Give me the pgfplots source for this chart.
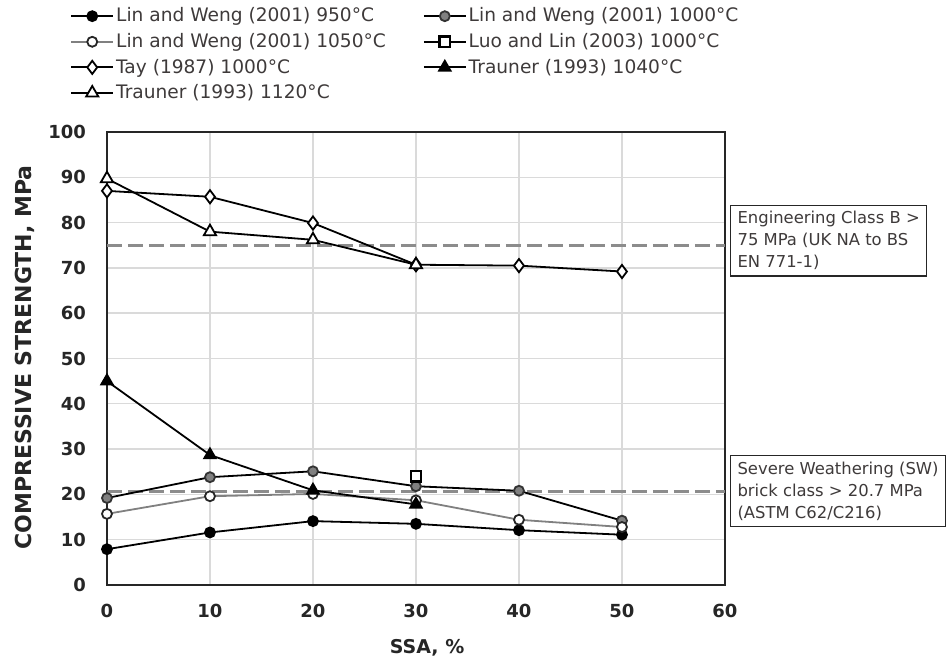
\documentclass[border=0pt]{standalone}
\usepackage{fontspec}
\setmainfont{DejaVu Sans}
\usepackage{pgfplots}
\pgfplotsset{compat=1.18}
\definecolor{txt}{RGB}{62,58,58}
\definecolor{midgray}{RGB}{128,128,128}
\definecolor{gridgray}{RGB}{218,218,218}
\definecolor{dashgray}{RGB}{140,140,140}

\begin{document}
\begin{tikzpicture}
\begin{axis}[
  scale only axis,
  width=309pt, height=226.5pt,
  xmin=0, xmax=60, ymin=0, ymax=100,
  xtick={0,10,...,60}, ytick={0,10,...,100},
  major tick length=0pt,
  /pgf/number format/assume math mode=true,
  grid=major,
  grid style={gridgray, line width=0.7pt},
  axis line style={black!85, line width=1.2pt},
  tick label style={font=\bfseries\fontsize{9}{11}\selectfont, text=black!85},
  yticklabel style={xshift=-7pt},
  xticklabel style={yshift=-6pt},
  xlabel={SSA, \%},
  ylabel={COMPRESSIVE STRENGTH, MPa},
  every axis x label/.style={at={(axis description cs:0.518,-0.139)}, anchor=center,
    font=\bfseries\fontsize{9.5}{11}\selectfont, text=black!85},
  every axis y label/.style={at={(axis description cs:-0.1327,0.502)}, rotate=90, anchor=center,
    font=\bfseries\fontsize{11}{12}\selectfont, text=black!85},
  clip=false,
  legend columns=2,
  legend cell align=left,
  legend image code/.code={
    \draw[mark repeat=2, mark phase=2, #1] plot coordinates {(0pt,0pt) (10.5pt,0pt) (21pt,0pt)};},
  legend style={at={(axis description cs:-0.0599,1.2848)}, anchor=north west,
    draw=none, fill=none, inner sep=0pt, row sep=0pt,
    font=\fontsize{9.3}{11}\selectfont, text=txt,
    nodes={inner sep=1pt, text height=8.3pt, text depth=2.5pt},
    /tikz/every even column/.append style={column sep=17.5pt}},
]
% reference lines
\addplot[dashgray, line width=1.5pt, dash pattern=on 7.5pt off 3pt, forget plot] coordinates {(0,75) (60,75)};
\addplot[dashgray, line width=1.5pt, dash pattern=on 7.5pt off 3pt, forget plot] coordinates {(0,20.7) (60,20.7)};

% Lin and Weng (2001) 950
\addplot[black, line width=0.9pt, mark=*, mark size=2.5pt, mark options={fill=black}]
  coordinates {(0,7.9) (10,11.6) (20,14.1) (30,13.5) (40,12.1) (50,11.1)};
\addlegendentry{Lin and Weng (2001) 950°C}
% Lin and Weng (2001) 1000
\addplot[black, line width=0.9pt, mark=*, mark size=2.5pt, mark options={fill=midgray, draw=black!80}]
  coordinates {(0,19.2) (10,23.8) (20,25.1) (30,21.8) (40,20.8) (50,14.2)};
\addlegendentry{Lin and Weng (2001) 1000°C}
% Lin and Weng (2001) 1050
\addplot[midgray, line width=0.9pt, mark=*, mark size=2.5pt, mark options={fill=white, draw=black!85}]
  coordinates {(0,15.7) (10,19.6) (20,20.1) (30,18.7) (40,14.4) (50,12.8)};
\addlegendentry{Lin and Weng (2001) 1050°C}
% Luo and Lin (2003) 1000
\addplot[black, line width=0.9pt, mark=square*, mark size=2.6pt, mark options={fill=white, line width=1.2pt}]
  coordinates {(30,24.0)};
\addlegendentry{Luo and Lin (2003) 1000°C}
% Tay (1987) 1000
\addplot[black, line width=0.9pt, mark=diamond*, mark size=3.3pt, mark options={fill=white}]
  coordinates {(0,87.0) (10,85.7) (20,79.9) (30,70.7) (40,70.5) (50,69.2)};
\addlegendentry{Tay (1987) 1000°C}
% Trauner (1993) 1040
\addplot[black, line width=0.9pt, mark=triangle*, mark size=3.3pt, mark options={fill=black}]
  coordinates {(0,45.0) (10,28.7) (20,20.9) (30,17.8)};
\addlegendentry{Trauner (1993) 1040°C}
% Trauner (1993) 1120
\addplot[black, line width=0.9pt, mark=triangle*, mark size=3.5pt, mark options={fill=white}]
  coordinates {(0,89.7) (10,78.0) (20,76.2) (30,70.7)};
\addlegendentry{Trauner (1993) 1120°C}

% annotation boxes
\node[draw=black!85, line width=0.6pt, anchor=west, align=left, inner xsep=3.5pt, inner ysep=3pt,
  font=\fontsize{8.2}{11}\selectfont, text=txt, fill=white]
  at (axis cs:60,76.0) [xshift=2.5pt] {Engineering Class B >\\75 MPa (UK NA to BS\\EN 771-1)};
\node[draw=black!85, line width=0.6pt, anchor=west, align=left, inner xsep=3.5pt, inner ysep=3pt,
  font=\fontsize{8.2}{11}\selectfont, text=txt, fill=white]
  at (axis cs:60,20.75) [xshift=2.5pt] {Severe Weathering (SW)\\brick class > 20.7 MPa\\(ASTM C62/C216)};

% page frame
\path (rel axis cs:-0.1731,-0.1744) rectangle (rel axis cs:1.3625,1.2914);
\end{axis}
\end{tikzpicture}
\end{document}
